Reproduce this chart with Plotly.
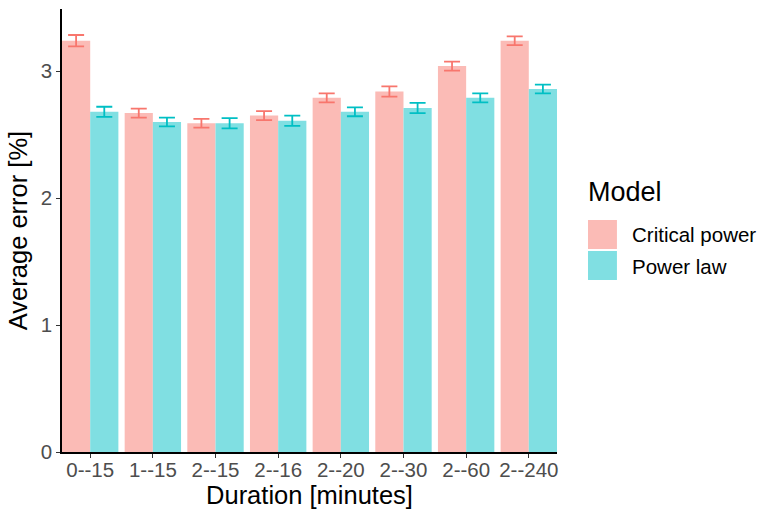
import plotly.graph_objects as go

categories = ["0--15", "1--15", "2--15", "2--16", "2--20", "2--30", "2--60", "2--240"]
cp_values = [3.24, 2.67, 2.59, 2.65, 2.79, 2.84, 3.04, 3.24]
cp_err = [0.045, 0.035, 0.035, 0.035, 0.035, 0.04, 0.035, 0.035]
pl_values = [2.68, 2.60, 2.59, 2.61, 2.68, 2.71, 2.79, 2.86]
pl_err = [0.04, 0.035, 0.04, 0.04, 0.035, 0.04, 0.035, 0.035]
series_names = ["Critical power", "Power law"]
y_ticks = [0, 1, 2, 3]

fill_colors = ["#FBBBB6", "#80DFE2"]
line_colors = ["#F8766D", "#00BFC4"]
font = "Liberation Sans, Arial, Helvetica, sans-serif"

fig = go.Figure()
for name, vals, errs, fc, lc in [
    (series_names[0], cp_values, cp_err, fill_colors[0], line_colors[0]),
    (series_names[1], pl_values, pl_err, fill_colors[1], line_colors[1]),
]:
    fig.add_trace(go.Bar(
        x=categories, y=vals, name=name,
        marker=dict(color=fc, line=dict(width=0)),
        error_y=dict(type="data", array=errs, color=lc, thickness=1.8, width=8),
        showlegend=False,
    ))

fig.update_layout(
    width=766, height=512,
    margin=dict(l=61.5, r=209, t=9, b=60),
    paper_bgcolor="white", plot_bgcolor="white",
    barmode="group", bargap=0.1, bargroupgap=0,
    font=dict(family=font),
    xaxis=dict(
        range=[-0.45, 7.45], showgrid=False, showline=True, linecolor="black", linewidth=1.6,
        ticks="outside", ticklen=4, tickcolor="#333333", tickwidth=1.2, automargin=False,
        ticklabelstandoff=-5,
        tickfont=dict(size=20.5, color="#4D4D4D", family=font),
        title=dict(text="Duration [minutes]", font=dict(size=25.5, color="black", family=font), standoff=6),
    ),
    yaxis=dict(
        range=[0, 3.49], tickvals=y_ticks, showgrid=False, zeroline=False,
        showline=True, linecolor="black", linewidth=1.6, automargin=False,
        ticks="outside", ticklen=4, tickcolor="#333333", tickwidth=1.2,
        tickfont=dict(size=20.5, color="#4D4D4D", family=font),
        title=dict(text="Average error [%]", font=dict(size=25.5, color="black", family=font), standoff=6),
    ),
)

# custom legend (ggplot style)
fig.add_annotation(xref="paper", yref="paper", x=(586 - 61.5) / 495.5, y=(452 - 192) / 443,
                   text="Model", showarrow=False, xanchor="left", yanchor="middle",
                   font=dict(size=27, color="black", family=font))
for i, (name, fc) in enumerate(zip(series_names, fill_colors)):
    y0 = 220 + i * 31
    fig.add_shape(type="rect", xref="paper", yref="paper",
                  x0=(588 - 61.5) / 495.5, x1=(617 - 61.5) / 495.5,
                  y0=(452 - (y0 + 29)) / 443, y1=(452 - y0) / 443,
                  fillcolor=fc, line=dict(width=0))
    fig.add_annotation(xref="paper", yref="paper", x=(630 - 61.5) / 495.5, y=(452 - (y0 + 15)) / 443,
                       text=name, showarrow=False, xanchor="left", yanchor="middle",
                       font=dict(size=20.5, color="black", family=font))

fig.write_html("out.html")
